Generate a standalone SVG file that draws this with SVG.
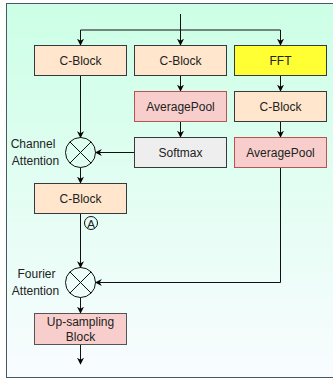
<svg xmlns="http://www.w3.org/2000/svg" width="333" height="379" viewBox="0 0 333 379">
<defs>
<linearGradient id="bg" x1="0" y1="0" x2="0" y2="1">
<stop offset="0" stop-color="#ccffe6"/>
<stop offset="1" stop-color="#f9fcff"/>
</linearGradient>
<marker id="arr" viewBox="0 0 10 10" refX="9" refY="5" markerWidth="7" markerHeight="7" markerUnits="userSpaceOnUse" orient="auto">
<path d="M0,0 L10,5 L0,10 L3,5 z" fill="#000"/>
</marker>
<style>
.box{stroke-width:1}
.orange{fill:#ffe6cc;stroke:#36393d}
.red{fill:#f8cecc;stroke:#b85450}
.grey{fill:#eeeeee;stroke:#36393d}
.yellow{fill:#ffff33;stroke:#36393d}
.up{fill:#f8cecc;stroke:#555}
.t{font-family:"Liberation Sans",Arial,sans-serif;font-size:12px;fill:#222;text-anchor:middle;dominant-baseline:central}
.lbl{font-family:"Liberation Sans",Arial,sans-serif;font-size:12px;fill:#222;text-anchor:middle;dominant-baseline:central}
.c{fill:none;stroke:#111;stroke-width:1}
.ca{fill:none;stroke:#111;stroke-width:1;marker-end:url(#arr)}
.op{fill:none;stroke:#111;stroke-width:1}
</style>
</defs>
<rect x="6.5" y="3.5" width="330" height="374" fill="url(#bg)" stroke="#4a5866" stroke-width="1"/>
<g id="connectors">
<path class="c" d="M180.5,14 V30"/>
<path class="ca" d="M180.5,30 V45"/>
<path class="ca" d="M180.5,30 H80.5 V45"/>
<path class="ca" d="M180.5,30 H280.5 V45"/>
<path class="ca" d="M180.5,75 V91"/>
<path class="ca" d="M280.5,75 V91"/>
<path class="ca" d="M180.5,121 V137"/>
<path class="ca" d="M280.5,121 V137"/>
<path class="ca" d="M80.5,75 V137.5"/>
<path class="ca" d="M134.5,152.5 H95.5"/>
<path class="ca" d="M80.5,167.5 V183"/>
<path class="c" d="M80.5,213 V267.5"/>
<path class="ca" d="M80.5,240 V267.5"/>
<path class="ca" d="M280.5,167 V282.5 H95.5"/>
<path class="ca" d="M80.5,297.5 V313"/>
<path class="ca" d="M80.5,344 V364"/>
</g>
<g id="cblock1"><rect class="box orange" x="34.5" y="45.5" width="92" height="30"/><text class="t" x="80.5" y="60.5">C-Block</text></g>
<g id="cblock2"><rect class="box orange" x="134.5" y="45.5" width="92" height="30"/><text class="t" x="180.5" y="60.5">C-Block</text></g>
<g id="fft"><rect class="box yellow" x="234.5" y="45.5" width="92" height="30"/><text class="t" x="280.5" y="60.5">FFT</text></g>
<g id="avgpool1"><rect class="box red" x="134.5" y="91.5" width="92" height="30"/><text class="t" x="180.5" y="106.5">AveragePool</text></g>
<g id="cblock3"><rect class="box orange" x="234.5" y="91.5" width="92" height="30"/><text class="t" x="280.5" y="106.5">C-Block</text></g>
<g id="softmax"><rect class="box grey" x="134.5" y="137.5" width="92" height="30"/><text class="t" x="180.5" y="152.5">Softmax</text></g>
<g id="avgpool2"><rect class="box red" x="234.5" y="137.5" width="92" height="30"/><text class="t" x="280.5" y="152.5">AveragePool</text></g>
<g id="mult1"><circle class="op" cx="80.5" cy="152.5" r="15"/><path class="op" d="M69.9,141.9 L91.1,163.1 M91.1,141.9 L69.9,163.1"/><text class="lbl" x="33" y="144">Channel</text><text class="lbl" x="35.5" y="161">Attention</text></g>
<g id="cblock4"><rect class="box orange" x="34.5" y="183.5" width="92" height="30"/><text class="t" x="80.5" y="198.5">C-Block</text></g>
<g id="markA"><circle cx="91" cy="223" r="6.5" fill="none" stroke="#111"/><text class="lbl" x="91" y="223.5" style="font-size:11.5px">A</text></g>
<g id="mult2"><circle class="op" cx="80.5" cy="282.5" r="15"/><path class="op" d="M69.9,271.9 L91.1,293.1 M91.1,271.9 L69.9,293.1"/><text class="lbl" x="36.5" y="274">Fourier</text><text class="lbl" x="35.5" y="291">Attention</text></g>
<g id="upsampling"><rect class="box up" x="34.5" y="313.5" width="92" height="31"/><text class="t" x="80.5" y="321.5">Up-sampling</text><text class="t" x="80.5" y="336.5">Block</text></g>
</svg>
